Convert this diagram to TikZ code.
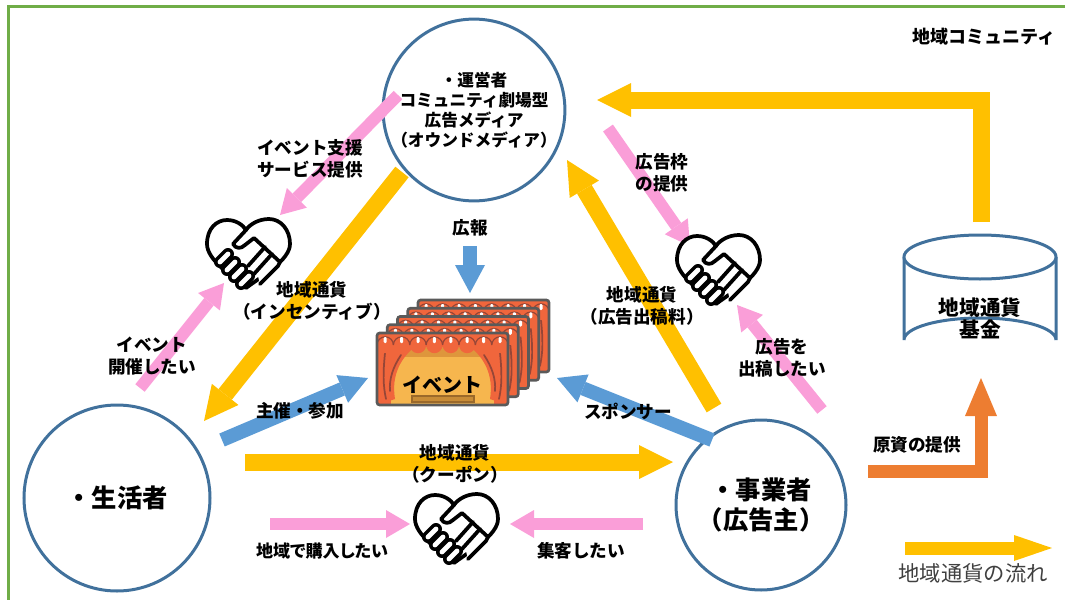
\documentclass[tikz,border=0pt]{standalone}
\usepackage{fontspec}
\setmainfont{Noto Sans CJK JP}
\newfontfamily\jpprop{Noto Sans CJK JP}[RawFeature=+palt]
\usetikzlibrary{arrows.meta}
\definecolor{flowyel}{RGB}{255,192,0}
\definecolor{flowblu}{RGB}{91,155,213}
\definecolor{flowpnk}{RGB}{250,158,216}
\definecolor{floworg}{RGB}{237,125,49}
\definecolor{ringblu}{RGB}{65,113,156}
\definecolor{framegrn}{RGB}{112,173,71}
\definecolor{curtred}{RGB}{240,102,60}
\definecolor{curtfold}{RGB}{150,70,55}
\definecolor{stageyel}{RGB}{246,182,78}
\definecolor{stagedark}{RGB}{222,150,60}
\definecolor{barbrown}{RGB}{200,140,55}
\definecolor{cardgray}{RGB}{90,90,90}
\definecolor{legendgray}{RGB}{64,64,64}

\tikzset{
  yelarrow/.style={draw=flowyel, line width=12.75pt, line cap=butt, line join=miter,
    -{Triangle[width=25.5pt,length=25.5pt,line width=0pt]}},
  bluarrow/.style={draw=flowblu, line width=10.5pt, line cap=butt,
    -{Triangle[width=22.5pt,length=21pt,line width=0pt]}},
  pnkarrow/.style={draw=flowpnk, line width=9pt, line cap=butt,
    -{Triangle[width=21pt,length=18pt,line width=0pt]}},
  orgarrow/.style={draw=floworg, line width=9.75pt, line cap=butt, line join=miter,
    -{Triangle[width=24pt,length=28.5pt,line width=0pt]}},
  actor/.style={circle, draw=ringblu, line width=2.25pt, align=center, inner sep=0pt},
  lbl/.style={align=center, inner sep=0pt, font=\fontsize{13.2pt}{16.5pt}\selectfont\bfseries},
  handshake/.pic={
    \begin{scope}[line width=2.8pt, line cap=round, line join=round]
      \draw[fill=white] (-2,34) .. controls (-16,22) and (-41,6) .. (-41,-10)
        .. controls (-41,-26) and (-31,-34) .. (-21,-34)
        .. controls (-12,-34) and (-5,-29) .. (-2,-24)
        .. controls (2,-30) and (11,-35) .. (21,-35)
        .. controls (33,-35) and (42,-24) .. (42,-10)
        .. controls (42,6) and (14,22) .. (-2,34) -- cycle;
      % hand reaching from the upper right
      \draw[fill=white] (-2,-24) -- (-15,-10) .. controls (-12,-5) and (-7,-5) .. (-3,-9)
        -- (6,-16) -- (32,8) -- (30,12) -- (12,30);
      \draw (24,0) -- (6,20);
      \draw (17,-7) -- (0,12);
      % fingers of the lower hand
      \foreach \cx/\cy in {-24/4,-17/12,-10/19,-3/26}{
        \draw[line width=9pt] (\cx-4,\cy+4) -- (\cx+4,\cy-4);
        \draw[white, line width=3.6pt] (\cx-4,\cy+4) -- (\cx+4,\cy-4);
      }
    \end{scope}
  },
  stagecard/.pic={
    \fill[curtred, rounded corners=2pt] (0,0) rectangle (131,72);
    \fill[stageyel] (14,14) rectangle (117,72);
    \fill[stagedark] (14,14) rectangle (117,24);
    \fill[curtred] (0,12) -- (40,12) .. controls (24,24) and (14,42) .. (18,66) -- (0,72) -- cycle;
    \fill[curtred] (131,12) -- (91,12) .. controls (107,24) and (117,42) .. (113,66) -- (131,72) -- cycle;
    \draw[curtfold, line width=1.3pt, line cap=round] (8,20) .. controls (6,40) and (6,52) .. (9,66);
    \draw[curtfold, line width=1.3pt, line cap=round] (24,22) .. controls (16,34) and (12,46) .. (13,58);
    \draw[curtfold, line width=1.3pt, line cap=round] (123,20) .. controls (125,40) and (125,52) .. (122,66);
    \draw[curtfold, line width=1.3pt, line cap=round] (107,22) .. controls (115,34) and (119,46) .. (118,58);
    \fill[curtred] (0,0) rectangle (131,12);
    \foreach \k in {0,...,7}{
      \fill[curtred] ({8.2+16.4*\k},12) circle (8.2);
      \draw[curtfold, line width=0.9pt] ({16.4*\k},12) arc[start angle=180, end angle=360, radius=8.2];
    }
    \foreach \k in {0,...,7}{
      \fill[white, rounded corners=0.8pt] ({6.7+16.4*\k},4) rectangle ({9.7+16.4*\k},10);
    }
    \filldraw[fill=barbrown, draw=stagedark!70!black, line width=0.8pt] (35,63) rectangle (97,69);
    \draw[cardgray, line width=2pt, rounded corners=2pt] (0,0) rectangle (131,72);
  }
}

\begin{document}
\begin{tikzpicture}[x=0.75pt, y=-0.75pt]
\useasboundingbox (0,0) rectangle (1065,600);

% community frame
\draw[framegrn, line width=2.8pt] (8.5,600) -- (8.5,6.5) -- (1065,6.5);
\node[lbl, anchor=east, font=\fontsize{13.5pt}{16pt}\selectfont\bfseries] (community) at (1056,37) {地域コミュニティ};

% actors
\node[actor, minimum size=132pt, font=\fontsize{12.5pt}{15pt}\selectfont\bfseries] (op) at (474,110)
  {・運営者\\コミュニティ劇場型\\広告メディア\\（オウンドメディア）};
\node[actor, minimum size=139.5pt, font=\fontsize{19pt}{22pt}\selectfont\bfseries] (res) at (117,498) {・生活者};
\node[actor, minimum size=127.5pt, font=\fontsize{19pt}{22pt}\selectfont\bfseries] (biz) at (761,505)
  {・事業者\\（広告主）};

% regional currency fund
\draw[ringblu, line width=2.25pt] (904,257) -- (904,340)
  arc[start angle=180, end angle=360, x radius=76, y radius=22] -- (1056,257);
\draw[ringblu, line width=2.25pt, fill=white] (980,257) ellipse [x radius=76, y radius=22];
\node[align=center, font=\fontsize{15.5pt}{16.5pt}\selectfont\bfseries] (fund) at (980,318) {地域通貨\\基金};

% arrow end points
\coordinate (fundtop) at (981,222);
\coordinate (fundcorner) at (981,100);
\coordinate (opright) at (597,100);
\coordinate (opleftout) at (402,172);
\coordinate (resin) at (204,421);
\coordinate (bizout) at (714,408);
\coordinate (opin) at (567,160);
\coordinate (resout) at (245,462);
\coordinate (bizin) at (673,462);
\coordinate (prtop) at (470,246);
\coordinate (prend) at (470,293);
\coordinate (resev) at (222,440);
\coordinate (evleft) at (368,378);
\coordinate (bizev) at (712,440);
\coordinate (evright) at (557,378);
\coordinate (opsup) at (398,95);
\coordinate (hsoneend) at (280,215);
\coordinate (reswish) at (140,388);
\coordinate (hsonein) at (224,283);
\coordinate (opframe) at (608,128);
\coordinate (hstwoend) at (690,246);
\coordinate (bizwish) at (822,410);
\coordinate (hstwoin) at (737,305);
\coordinate (resbuy) at (270,524);
\coordinate (hsthreeleft) at (410,524);
\coordinate (bizcall) at (643,524);
\coordinate (hsthreeright) at (510,524);
\coordinate (fundsrc) at (868,471);
\coordinate (fundbend) at (981,471);
\coordinate (fundbase) at (981,378);
\coordinate (keystart) at (905,548);
\coordinate (keyend) at (1052,548);

% regional currency flows
\draw[yelarrow] (fundtop) -- (fundcorner) -- (opright);
\draw[yelarrow] (opleftout) -- (resin);
\draw[yelarrow] (bizout) -- (opin);
\draw[yelarrow] (resout) -- (bizin);

% participation
\draw[bluarrow] (prtop) -- (prend);
\draw[bluarrow] (resev) -- (evleft);
\draw[bluarrow] (bizev) -- (evright);

% wishes and services
\draw[pnkarrow] (opsup) -- (hsoneend);
\draw[pnkarrow] (reswish) -- (hsonein);
\draw[pnkarrow] (opframe) -- (hstwoend);
\draw[pnkarrow] (bizwish) -- (hstwoin);
\draw[pnkarrow] (resbuy) -- (hsthreeleft);
\draw[pnkarrow] (bizcall) -- (hsthreeright);

% funding source
\draw[orgarrow] (fundsrc) -- (fundbend) -- (fundbase);

% matching icons
\pic (hsone) at (248,254) {handshake};
\pic (hstwo) at (718,270) {handshake};
\pic (hsthree) at (456,529) {handshake};

% event cards
\foreach \k in {4,3,2,1,0}{
  \pic at ({377+10.25*\k},{333-8.25*\k}) {stagecard};
}
\node[font=\fontsize{15pt}{15pt}\selectfont\bfseries, inner sep=0pt] (ev) at (442,385) {イベント};

% labels
\node[lbl] (lsup) at (310,159) {イベント支援\\サービス提供};
\node[lbl] (lincent) at (312,301) {地域通貨\\（インセンティブ）};
\node[lbl] (lhold) at (152,356) {イベント\\開催したい};
\node[lbl] (lpr) at (470,228) {広報};
\node[lbl] (lframe) at (662,173) {広告枠\\の提供};
\node[lbl] (lfee) at (642,306) {地域通貨\\（広告出稿料）};
\node[lbl] (ladv) at (782,358) {広告を\\出稿したい};
\node[lbl] (ljoin) at (300,411) {主催・参加};
\node[lbl] (lspon) at (628,411) {スポンサー};
\node[lbl] (lcoupon) at (455,464) {地域通貨\\（クーポン）};
\node[lbl, font=\jpprop\fontsize{12.8pt}{15pt}\selectfont\bfseries] (lbuy) at (322,551) {地域で購入したい};
\node[lbl] (lcall) at (581,551) {集客したい};
\node[lbl] (lsrc) at (917,445) {原資の提供};

% legend
\draw[draw=flowyel, line width=9.75pt, line cap=butt,
  -{Triangle[width=19.5pt,length=28.5pt,line width=0pt]}] (keystart) -- (keyend);
\node[font=\fontsize{16pt}{16pt}\selectfont, text=legendgray, inner sep=0pt] (key) at (973,573) {地域通貨の流れ};
\end{tikzpicture}
\end{document}
